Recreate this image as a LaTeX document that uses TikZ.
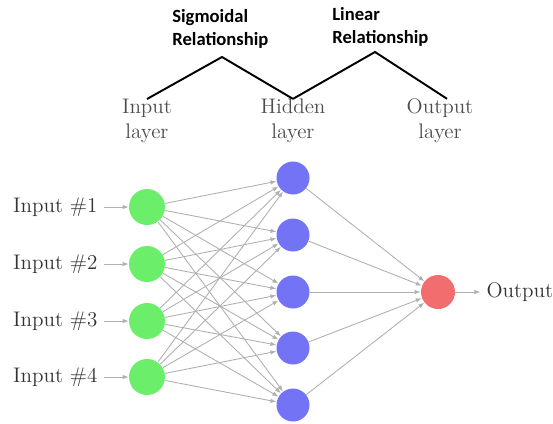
\documentclass[tikz,border=0pt]{standalone}
\usepackage{fontspec}
\newfontfamily\notefont{Carlito}
\usetikzlibrary{arrows.meta,positioning}
\definecolor{neurongreen}{HTML}{6BEF6B}
\definecolor{neuronblue}{HTML}{7373F6}
\definecolor{neuronred}{HTML}{F26D6D}
\definecolor{edgegray}{HTML}{B0B0B0}

\begin{document}
\begin{tikzpicture}[x=0.02cm, y=-0.02cm, every node/.style={font=\large, text=black!80},
    neuron/.style={circle,minimum size=0.72cm,inner sep=0pt},
    link/.style={-{Latex[length=1.2mm,width=0.9mm]},draw=edgegray,line width=0.5pt},
    layerlabel/.style={align=center,inner sep=0pt,text=black!70},
    note/.style={font=\notefont\fontsize{10.6}{13.2}\selectfont\bfseries,align=left,text=black,inner sep=0pt}]
    \useasboundingbox (0,0) rectangle (553,423);

    % input layer
    \foreach \i/\y in {1/207,2/264,3/321,4/377} {
        \node[neuron,fill=neurongreen] (I-\i) at (147,\y) {};
        \node[left=0.5cm of I-\i] (in-\i) {Input \#\i};
        \draw[link] (in-\i) -- (I-\i);
    }

    % hidden layer
    \foreach \j/\y in {1/178,2/235,3/292,4/348,5/405}
        \node[neuron,fill=neuronblue,minimum size=0.66cm] (H-\j) at (293,\y) {};

    % output layer
    \node[neuron,fill=neuronred,minimum size=0.68cm] (O) at (438,292) {};
    \node[right=0.5cm of O] (out) {Output};
    \draw[link] (O) -- (out);

    \foreach \i in {1,...,4}
        \foreach \j in {1,...,5}
            \draw[link] (I-\i) -- (H-\j);
    \foreach \j in {1,...,5}
        \draw[link] (H-\j) -- (O);

    % layer captions
    \node[layerlabel] (lay-in) at (147,121) {Input\\layer};
    \node[layerlabel] (lay-hid) at (293,121) {Hidden\\layer};
    \node[layerlabel] (lay-out) at (440,121) {Output\\layer};

    % relationships between the layers
    \coordinate (sig-top) at (222,57);
    \coordinate (lin-top) at (375,52);
    \draw[line width=1.1pt] (lay-in.north) -- (sig-top) -- (lay-hid.north);
    \draw[line width=1.1pt] (lay-hid.north) -- (lin-top) -- ([xshift=0.14cm]lay-out.north);
    \node[note,anchor=north west] (sig) at (172,9) {Sigmoidal\\Relationship};
    \node[note,anchor=north west] (lin) at (332,7) {Linear\\Relationship};
\end{tikzpicture}
\end{document}
